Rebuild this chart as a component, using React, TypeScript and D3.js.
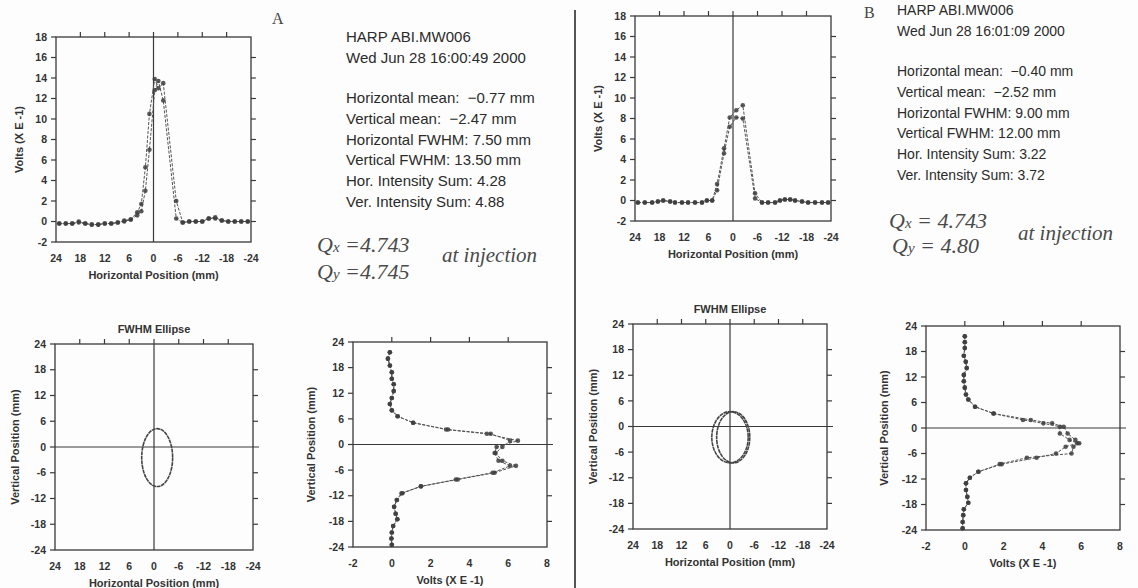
import React from 'react';
import * as d3 from 'd3';

// ---- horizontal harp profiles: wire position (mm) and two overlaid scans (Volts x E-1)
const hPosA = [23.2, 21.6, 20.0, 18.4, 16.8, 15.2, 13.6, 12.0, 10.4, 8.8, 7.2, 5.6, 4.0, 3.0, 2.0, 1.0, -0.3, -1.2, -2.4, -5.6, -7.2, -8.8, -10.4, -12.0, -13.6, -15.2, -16.8, -18.4, -20.0, -21.6, -23.2];
const hScan1A = [-0.2, -0.2, -0.2, 0.0, -0.2, -0.3, -0.3, -0.2, -0.2, -0.1, 0.1, 0.2, 0.9, 1.7, 5.3, 10.5, 13.9, 13.0, 13.5, 2.0, -0.1, 0.0, 0.0, 0.0, 0.3, 0.4, 0.1, 0.0, 0.0, 0.0, 0.0];
const hScan2A = [-0.2, -0.2, -0.2, -0.1, -0.2, -0.3, -0.3, -0.2, -0.2, -0.1, 0.0, 0.2, 0.6, 1.0, 3.0, 7.0, 12.8, 13.7, 11.8, 0.3, -0.1, 0.0, 0.0, 0.0, 0.3, 0.3, 0.1, 0.0, 0.0, 0.0, 0.0];

const hPosB = [23.3, 21.6, 19.8, 18.4, 17.1, 15.4, 14.2, 12.5, 11.0, 9.3, 7.6, 6.4, 5.1, 3.9, 2.2, 0.8, -0.8, -2.4, -5.4, -7.1, -8.6, -10.3, -11.5, -12.7, -14.0, -15.2, -16.9, -18.4, -20.1, -21.8, -23.3];
const hScan1B = [-0.2, -0.2, -0.2, -0.1, 0.0, -0.1, -0.2, -0.2, -0.2, -0.2, -0.2, 0.0, 0.0, 1.6, 5.1, 8.1, 8.8, 9.3, 0.7, -0.2, -0.2, -0.2, 0.0, 0.1, 0.1, 0.0, -0.1, -0.2, -0.2, -0.2, -0.2];
const hScan2B = [-0.2, -0.2, -0.2, -0.1, 0.0, -0.1, -0.2, -0.2, -0.2, -0.2, -0.2, 0.0, 0.0, 1.0, 4.6, 7.2, 8.1, 8.0, 0.2, -0.2, -0.2, -0.2, 0.0, 0.1, 0.1, 0.0, -0.1, -0.2, -0.2, -0.2, -0.2];

// ---- vertical harp profiles
const vPosA = [21.6, 20.1, 18.5, 16.9, 15.4, 14.1, 12.5, 10.9, 9.5, 8.0, 6.6, 5.1, 3.5, 2.5, 0.9, -0.6, -2.0, -3.8, -5.0, -6.6, -8.2, -9.8, -11.4, -13.0, -14.6, -16.2, -17.5, -19.1, -20.6, -22.0, -23.5];
const vScan1A = [-0.1, -0.2, -0.1, 0.0, 0.0, 0.1, 0.1, 0.0, -0.1, 0.0, 0.3, 1.1, 2.9, 5.1, 6.1, 5.7, 5.35, 5.7, 6.4, 5.3, 3.4, 1.5, 0.55, 0.27, 0.12, 0.2, 0.29, 0.07, 0.0, -0.02, 0.0];
const vScan2A = [-0.1, -0.2, -0.1, 0.0, 0.0, 0.1, 0.1, 0.0, -0.1, 0.0, 0.3, 1.1, 2.8, 4.9, 6.5, 5.4, 5.3, 5.5, 6.1, 5.2, 3.3, 1.5, 0.5, 0.25, 0.12, 0.2, 0.28, 0.07, 0.0, -0.02, 0.0];

const vPosB = [21.6, 20.2, 18.8, 17.0, 15.6, 14.1, 12.5, 11.0, 9.5, 7.9, 6.7, 5.0, 3.4, 1.9, 1.1, 0.3, -1.3, -2.8, -3.6, -4.4, -6.0, -7.0, -8.5, -10.3, -11.7, -13.0, -14.6, -16.2, -17.6, -19.1, -20.5, -22.1, -23.6];
const vScan1B = [0.0, 0.0, 0.0, -0.05, 0.05, 0.1, -0.05, -0.05, 0.0, 0.06, 0.18, 0.53, 1.47, 3.0, 4.05, 4.9, 4.9, 5.4, 5.8, 5.2, 4.7, 3.7, 1.9, 0.7, 0.26, 0.06, 0.06, 0.13, 0.18, -0.05, -0.08, -0.11, -0.11];
const vScan2B = [0.0, 0.0, 0.0, -0.05, 0.05, 0.1, -0.05, -0.05, 0.0, 0.06, 0.18, 0.53, 1.5, 3.4, 4.5, 5.1, 5.3, 5.7, 5.9, 5.6, 5.5, 3.2, 1.8, 0.7, 0.26, 0.06, 0.06, 0.13, 0.18, -0.05, -0.08, -0.11, -0.11];

// ---- printed summary
const harpName = 'HARP ABI.MW006';
const dateA = 'Wed Jun 28 16:00:49 2000';
const dateB = 'Wed Jun 28 16:01:09 2000';
const statLabels = ['Horizontal mean:', 'Vertical mean:', 'Horizontal FWHM:', 'Vertical FWHM:', 'Hor. Intensity Sum:', 'Ver. Intensity Sum:'];
const statUnits = [' mm', ' mm', ' mm', ' mm', '', ''];
const statsA = [-0.77, -2.47, 7.5, 13.5, 4.28, 4.88];
const statsB = [-0.4, -2.52, 9.0, 12.0, 3.22, 3.72];

// second FWHM ellipse drawn in run B (centre mm, width mm)
const ellipse2B = [-0.8, -2.52, 8.2, 12.0];

// handwritten tunes
const tuneA = ['4.743', '4.745'];
const tuneB = ['4.743', '4.80'];

const posTicks = [24, 18, 12, 6, 0, -6, -12, -18, -24];
const voltTicksH = [18, 16, 14, 12, 10, 8, 6, 4, 2, 0, -2];
const voltTicksV = [-2, 0, 2, 4, 6, 8];

const ink = '#333';
const frameInk = '#3a3a3a';
const sans = "'Liberation Sans', Arial, sans-serif";

type Box = { l: number; r: number; t: number; b: number };

function Frame(props: any) {
  const { box, xs, ys, xTicks, yTicks, topTicks, rightTicks, vLine, hLine, xTitle, yTitle, yTitleOff, title } = props;
  return (
    <g>
      <rect x={box.l} y={box.t} width={box.r - box.l} height={box.b - box.t} fill="none" stroke={frameInk} strokeWidth={1.3} />
      {yTicks.map((v: number) => (
        <line key={'l' + v} x1={box.l - 5} x2={box.l} y1={ys(v)} y2={ys(v)} stroke={frameInk} strokeWidth={1.2} />
      ))}
      {topTicks.map((v: number) => (
        <line key={'t' + v} x1={xs(v)} x2={xs(v)} y1={box.t - 5} y2={box.t} stroke={frameInk} strokeWidth={1.2} />
      ))}
      {rightTicks.map((v: number) => (
        <line key={'r' + v} x1={box.r} x2={box.r + 5} y1={ys(v)} y2={ys(v)} stroke={frameInk} strokeWidth={1.2} />
      ))}
      {vLine != null && <line x1={xs(vLine)} x2={xs(vLine)} y1={box.t - 5} y2={box.b} stroke={frameInk} strokeWidth={1.2} />}
      {hLine != null && <line x1={box.l} x2={box.r + 6} y1={ys(hLine)} y2={ys(hLine)} stroke={frameInk} strokeWidth={1.2} />}
      <g fontFamily={sans} fontWeight="bold" fontSize={10.5} fill={ink}>
        {yTicks.map((v: number) => (
          <text key={'yl' + v} x={box.l - 9} y={ys(v)} dy="0.35em" textAnchor="end">{String(v)}</text>
        ))}
        {xTicks.map((v: number) => (
          <text key={'xl' + v} x={xs(v)} y={box.b + 20} textAnchor="middle">{String(v)}</text>
        ))}
      </g>
      <g fontFamily={sans} fontWeight="bold" fontSize={11} fill={ink}>
        <text x={(box.l + box.r) / 2} y={box.b + 37} textAnchor="middle">{xTitle}</text>
        <text transform={`translate(${box.l - yTitleOff},${(box.t + box.b) / 2}) rotate(-90)`} textAnchor="middle" dy="0.35em">{yTitle}</text>
        {title && <text x={(box.l + box.r) / 2} y={box.t - 11} textAnchor="middle">{title}</text>}
      </g>
    </g>
  );
}

function Trace({ pts }: { pts: [number, number][] }) {
  const line = d3.line();
  return (
    <g>
      <path d={line(pts) || ''} fill="none" stroke="#555" strokeWidth={1} strokeDasharray="3,1.5" />
      {pts.map((p, i) => (
        <circle key={i} cx={p[0]} cy={p[1]} r={2.3} fill="#3d3d3d" fillOpacity={0.85} />
      ))}
    </g>
  );
}

function HProfile({ box, pos, s1, s2 }: { box: Box; pos: number[]; s1: number[]; s2: number[] }) {
  const xs = d3.scaleLinear().domain([24, -24]).range([box.l, box.r]);
  const ys = d3.scaleLinear().domain([-2, 18]).range([box.b, box.t]);
  const p1 = pos.map((p, i) => [xs(p), ys(s1[i])] as [number, number]);
  const p2 = pos.map((p, i) => [xs(p), ys(s2[i])] as [number, number]);
  return (
    <g>
      <Frame box={box} xs={xs} ys={ys} xTicks={posTicks} yTicks={voltTicksH}
        topTicks={[18, 12, 6, -6, -12, -18]} rightTicks={voltTicksH.slice(1, -1)}
        vLine={0} hLine={null} xTitle="Horizontal Position (mm)" yTitle="Volts (X E -1)" yTitleOff={37} />
      <Trace pts={p2} />
      <Trace pts={p1} />
    </g>
  );
}

function VProfile({ box, pos, s1, s2 }: { box: Box; pos: number[]; s1: number[]; s2: number[] }) {
  const xs = d3.scaleLinear().domain([-2, 8]).range([box.l, box.r]);
  const ys = d3.scaleLinear().domain([-24, 24]).range([box.b, box.t]);
  const p1 = pos.map((p, i) => [xs(s1[i]), ys(p)] as [number, number]);
  const p2 = pos.map((p, i) => [xs(s2[i]), ys(p)] as [number, number]);
  return (
    <g>
      <Frame box={box} xs={xs} ys={ys} xTicks={voltTicksV} yTicks={posTicks}
        topTicks={[0, 2, 4, 6]} rightTicks={[18, 12, 6, -6, -12, -18]}
        vLine={null} hLine={0} xTitle="Volts (X E -1)" yTitle="Vertical Position (mm)" yTitleOff={42} />
      <Trace pts={p2} />
      <Trace pts={p1} />
    </g>
  );
}

function EllipsePanel({ box, ellipses }: { box: Box; ellipses: number[][] }) {
  const xs = d3.scaleLinear().domain([24, -24]).range([box.l, box.r]);
  const ys = d3.scaleLinear().domain([-24, 24]).range([box.b, box.t]);
  return (
    <g>
      <Frame box={box} xs={xs} ys={ys} xTicks={posTicks} yTicks={posTicks}
        topTicks={[18, 12, 6, -6, -12, -18]} rightTicks={[18, 12, 6, -6, -12, -18]}
        vLine={0} hLine={0} xTitle="Horizontal Position (mm)" yTitle="Vertical Position (mm)" yTitleOff={40} title="FWHM Ellipse" />
      {ellipses.map((e, i) => (
        <ellipse key={i} cx={xs(e[0])} cy={ys(e[1])}
          rx={Math.abs(xs(e[2] / 2) - xs(0))} ry={Math.abs(ys(e[3] / 2) - ys(0))}
          fill="none" stroke="#444" strokeWidth={1.6} strokeDasharray="4,0.6" />
      ))}
    </g>
  );
}

const fmt = (v: number) => (v < 0 ? '\u2212' + Math.abs(v).toFixed(2) : v.toFixed(2));

function InfoBlock({ x, y0, date, stats, size }: { x: number; y0: number; date: string; stats: number[]; size: number }) {
  return (
    <g fontFamily={sans} fontSize={size} fill="#2b2b2b">
      <text x={x} y={y0}>{harpName}</text>
      <text x={x} y={y0 + 20.7}>{date}</text>
      {statLabels.map((lab, i) => (
        <text key={lab} x={x} y={y0 + 61 + i * 20.8} xmlSpace="preserve">
          {lab + (i < 2 ? '  ' : ' ') + fmt(stats[i]) + statUnits[i]}
        </text>
      ))}
    </g>
  );
}

function Tunes({ x, y, xb, yb, q, gap, atX, atY }: any) {
  const hand = "'Liberation Serif', serif";
  return (
    <g fontFamily={hand} fontStyle="italic" fontSize={22} fill="#4a4a4a">
      <text x={x} y={y} xmlSpace="preserve">Q<tspan fontSize={15}>x</tspan>{gap + q[0]}</text>
      <text x={xb} y={yb} xmlSpace="preserve">Q<tspan fontSize={15}>y</tspan>{gap + q[1]}</text>
      <text x={atX} y={atY} fontSize={21}>at injection</text>
    </g>
  );
}

export default function App() {
  const boxHA = { l: 56, r: 251, t: 37, b: 242 };
  const boxHB = { l: 635, r: 831, t: 16, b: 221 };
  const boxEA = { l: 55, r: 253, t: 344, b: 550 };
  const boxEB = { l: 633, r: 827, t: 324, b: 529 };
  const boxVA = { l: 353, r: 547, t: 342, b: 547 };
  const boxVB = { l: 926, r: 1120, t: 326, b: 530 };

  return (
    <svg width={1138} height={588} style={{ position: 'absolute', left: 0, top: 0, background: '#fdfdfd' }}>
      <rect width={1138} height={588} fill="#fdfdfd" />
      <line x1={575} x2={575} y1={10} y2={588} stroke="#555" strokeWidth={2} />

      <text x={272} y={24} fontFamily="'Liberation Serif', serif" fontSize={16} fill="#444">A</text>
      <text x={864} y={18} fontFamily="'Liberation Serif', serif" fontSize={16} fill="#444">B</text>

      <HProfile box={boxHA} pos={hPosA} s1={hScan1A} s2={hScan2A} />
      <HProfile box={boxHB} pos={hPosB} s1={hScan1B} s2={hScan2B} />
      <EllipsePanel box={boxEA} ellipses={[[statsA[0], statsA[1], statsA[2], statsA[3]]]} />
      <EllipsePanel box={boxEB} ellipses={[[statsB[0] + 0.4, statsB[1], statsB[2], statsB[3]], ellipse2B]} />
      <VProfile box={boxVA} pos={vPosA} s1={vScan1A} s2={vScan2A} />
      <VProfile box={boxVB} pos={vPosB} s1={vScan1B} s2={vScan2B} />

      <InfoBlock x={346} y0={42} date={dateA} stats={statsA} size={15} />
      <InfoBlock x={897} y0={15} date={dateB} stats={statsB} size={14} />

      <Tunes x={317} y={252} xb={317} yb={279} q={tuneA} gap=" =" atX={442} atY={262} />
      <Tunes x={889} y={228} xb={892} yb={253} q={tuneB} gap=" = " atX={1018} atY={240} />
    </svg>
  );
}
